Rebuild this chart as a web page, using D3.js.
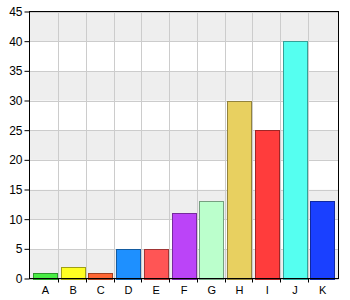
<!DOCTYPE html>
<html><head><meta charset="utf-8">
<script src="https://cdn.jsdelivr.net/npm/d3@7"></script>
<style>html,body{margin:0;padding:0;background:#fff;}svg{display:block;}</style>
</head><body>
<script>
const categories = ["A","B","C","D","E","F","G","H","I","J","K"];
const values = [1,2,1,5,5,11,13,30,25,40,13];
const colors = ["#48ec44","#ffff22","#ff6633","#1e90ff","#ff5555","#bb44f8","#bbffcc","#e8d060","#ff3c3c","#55fff0","#1a40ff"];
const yTicks = [0,5,10,15,20,25,30,35,40,45];

(function(){
const W = 350, H = 300;
const pL = 29.5, pR = 338.5, pT = 11.5, pB = 278.5;
const svg = d3.select("body").append("svg").attr("width", W).attr("height", H);

const x = d3.scaleBand().domain(categories).range([30.5, 335.5]).padding(0);
const y = d3.scaleLinear().domain([0,45]).range([pB, pT]);

// alternating background bands
const bands = d3.range(0, 45, 5);
svg.append("g").selectAll("rect").data(bands).join("rect")
  .attr("x", pL).attr("width", pR-pL)
  .attr("y", d => y(d+5)).attr("height", d => y(d)-y(d+5))
  .attr("fill", (d,i) => i%2===0 ? "#eeeeee" : "#ffffff");

// horizontal grid
svg.append("g").selectAll("line").data(yTicks).join("line")
  .attr("x1", pL).attr("x2", pR)
  .attr("y1", d => Math.round(y(d))+0.5).attr("y2", d => Math.round(y(d))+0.5)
  .attr("stroke", "#cccccc");
// vertical grid at band boundaries
const bounds = categories.slice(1).map(c => x(c));
svg.append("g").selectAll("line").data(bounds).join("line")
  .attr("x1", d => Math.round(d)+0.5).attr("x2", d => Math.round(d)+0.5)
  .attr("y1", pT).attr("y2", pB)
  .attr("stroke", "#cccccc");

// bars
svg.append("g").selectAll("rect").data(values).join("rect")
  .attr("x", (d,i) => Math.round(x(categories[i]) + 2.5) + 0.5)
  .attr("width", 24)
  .attr("y", d => Math.round(y(d)) + 0.5)
  .attr("height", d => Math.round(y(0)) - Math.round(y(d)))
  .attr("fill", (d,i) => colors[i])
  .attr("stroke", (d,i) => d3.color(colors[i]).darker(1.3));

// frame
svg.append("rect").attr("x", pL).attr("y", pT)
  .attr("width", pR-pL).attr("height", pB-pT)
  .attr("fill", "none").attr("stroke", "#000");

// y axis
const yAxis = d3.axisLeft(y).tickValues(yTicks).tickSize(5).tickPadding(2);
const gy = svg.append("g").attr("transform", `translate(${pL},0)`).call(yAxis);
gy.select(".domain").remove();
gy.selectAll("text").attr("font-family", "Liberation Sans, Arial, sans-serif").attr("font-size", 12).attr("fill", "#000");

// x axis labels and ticks
const gx = svg.append("g");
gx.selectAll("line").data(bounds).join("line")
  .attr("x1", d => Math.round(d)+0.5).attr("x2", d => Math.round(d)+0.5)
  .attr("y1", pB).attr("y2", pB+4).attr("stroke", "#000");
gx.selectAll("text").data(categories).join("text")
  .attr("x", d => x(d) + x.bandwidth()/2 + 1)
  .attr("y", 294)
  .attr("text-anchor", "middle")
  .attr("font-family", "Liberation Sans, Arial, sans-serif").attr("font-size", 11)
  .text(d => d);
})();
</script>
</body></html>
